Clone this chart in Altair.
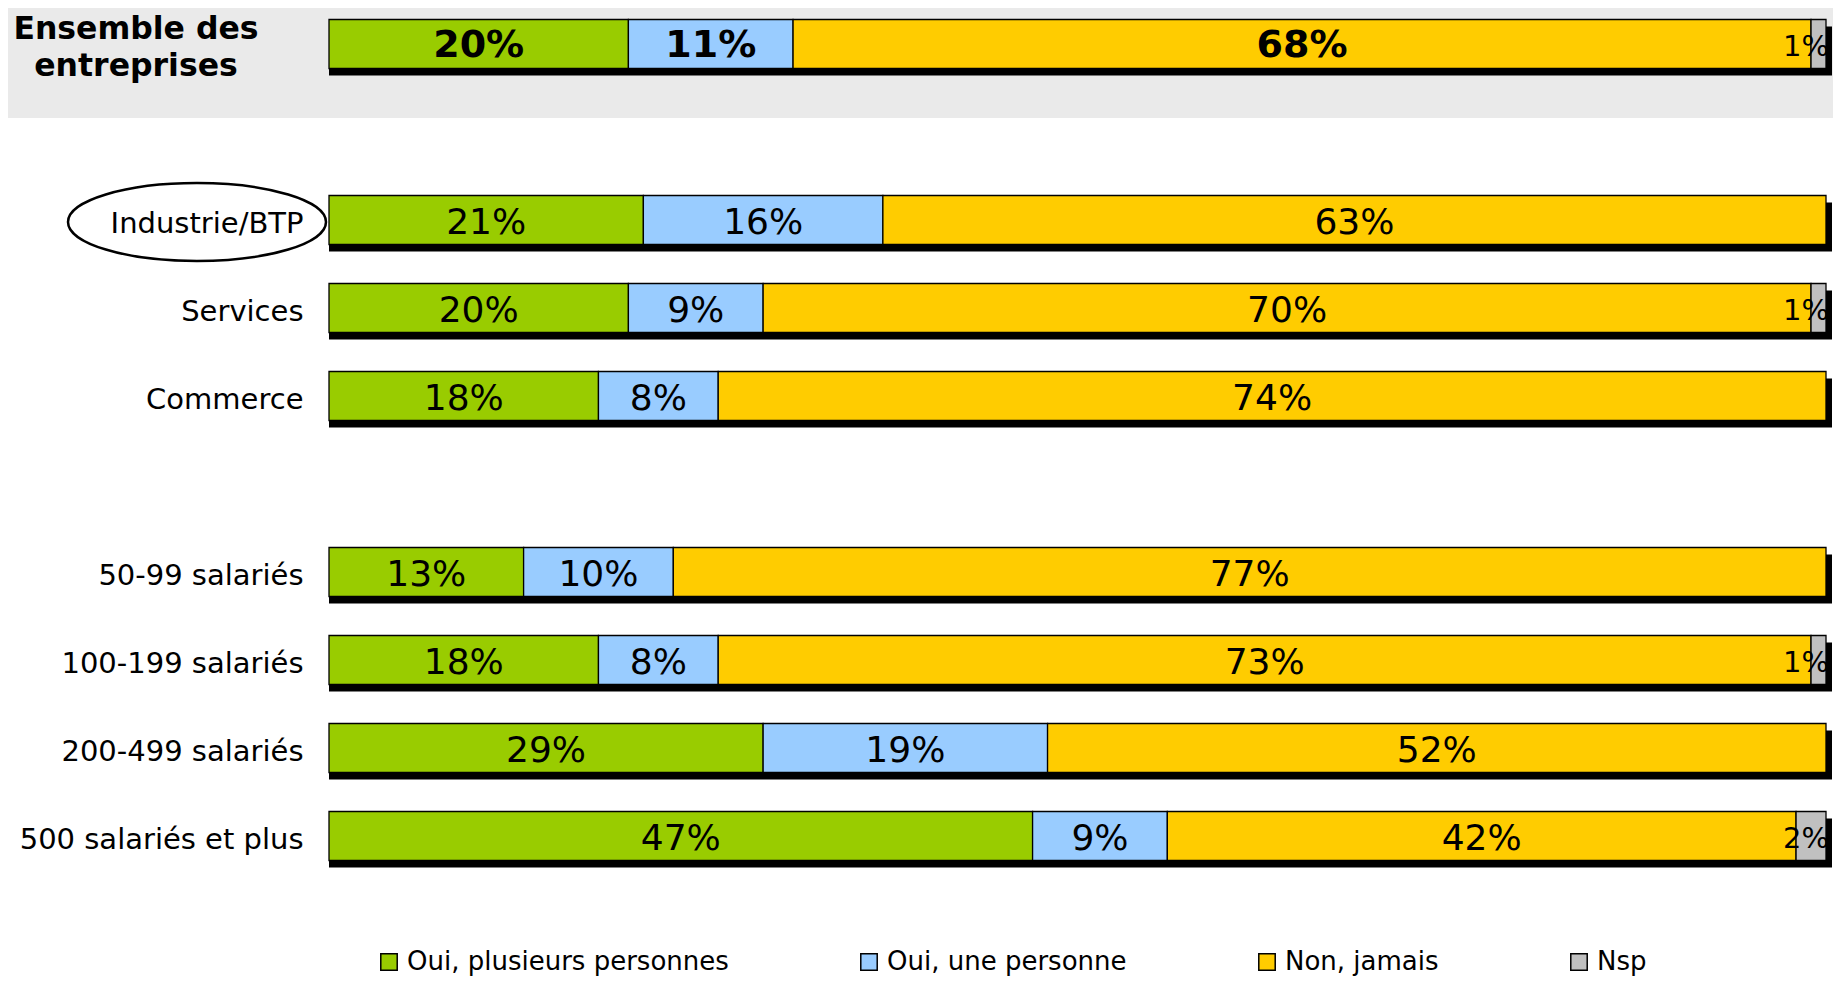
import altair as alt
import pandas as pd

# ---- data ----
categories = ["Ensemble des entreprises", "Industrie/BTP", "Services", "Commerce",
              "50-99 salariés", "100-199 salariés", "200-499 salariés", "500 salariés et plus"]
oui_plusieurs = [20, 21, 20, 18, 13, 18, 29, 47]
oui_une = [11, 16, 9, 8, 10, 8, 19, 9]
non_jamais = [68, 63, 70, 74, 77, 73, 52, 42]
nsp = [1, 0, 1, 0, 0, 1, 0, 2]
series = ["Oui, plusieurs personnes", "Oui, une personne", "Non, jamais", "Nsp"]
colors = ["#99CC00", "#99CCFF", "#FFCC00", "#C0C0C0"]
row_order = ["Ensemble des entreprises", " ", "Industrie/BTP", "Services", "Commerce", "  ",
             "50-99 salariés", "100-199 salariés", "200-499 salariés", "500 salariés et plus"]
top_cat = categories[0]
top_label_lines = ["Ensemble des", "entreprises"]
highlight_cat = "Industrie/BTP"

rows = []
for i, c in enumerate(categories):
    for j, (s, vals) in enumerate(zip(series, [oui_plusieurs, oui_une, non_jamais, nsp])):
        rows.append({"cat": c, "serie": s, "order": j, "value": vals[i]})
df = pd.DataFrame(rows)

FONT = "DejaVu Sans"
W, H = 1497, 880

xscale = alt.Scale(domain=[0, 100], nice=False, zero=True)
yscale = alt.Scale(domain=row_order, range=[-8, 872], paddingInner=0.443, paddingOuter=0.2215)
yaxis = alt.Axis(title=None, domain=False, ticks=False, tickSize=0, grid=False,
                 labelFont=FONT, labelFontSize=29, labelColor="black", labelPadding=26,
                 labelLimit=400, labelOffset=4,
                 labelExpr=f"datum.value == '{top_cat}' ? '' : datum.value")
y_enc = alt.Y("cat:N", scale=yscale, axis=yaxis, sort=row_order)

base = alt.Chart(df).transform_stack(
    stack="value", groupby=["cat"], sort=[alt.SortField("order", order="ascending")],
    as_=["x0", "x1"]
).transform_calculate(
    mid="(datum.x0 + datum.x1) / 2", label="datum.value + '%'"
)

# gray band behind the overall row
band = alt.Chart(alt.Data(values=[{"k": 1}])).mark_rect(color="#EAEAEA").encode(
    x=alt.value(-329), x2=alt.value(1520), y=alt.value(-8), y2=alt.value(110)
)

shadow = alt.Chart(df).transform_aggregate(
    total="sum(value)", groupby=["cat"]
).mark_bar(color="black", xOffset=6, x2Offset=6, yOffset=7, y2Offset=7).encode(
    x=alt.X("total:Q", scale=xscale, axis=None, stack=None),
    y=y_enc,
)

bars = base.transform_filter("datum.value > 0").mark_bar(
    stroke="black", strokeWidth=1.3
).encode(
    x=alt.X("x0:Q", scale=xscale, axis=None),
    x2="x1:Q",
    y=y_enc,
    color=alt.Color("serie:N", scale=alt.Scale(domain=series, range=colors),
                    legend=alt.Legend(orient="none", legendX=47, legendY=941,
                                      direction="horizontal", title=None,
                                      labelFont=FONT, labelFontSize=26, labelColor="black",
                                      symbolType="square", symbolSize=270,
                                      symbolStrokeColor="black", symbolStrokeWidth=1.5,
                                      columnPadding=127, labelOffset=5, labelLimit=500)),
    order=alt.Order("order:Q"),
)

labels_main = base.transform_filter(
    f"datum.value > 0 && datum.serie != 'Nsp' && datum.cat != '{top_cat}'"
).mark_text(font=FONT, fontSize=36, color="black", baseline="middle", align="center",
            dy=3).encode(
    x=alt.X("mid:Q", scale=xscale, axis=None), y=y_enc, text="label:N"
)

labels_top = base.transform_filter(
    f"datum.value > 0 && datum.serie != 'Nsp' && datum.cat == '{top_cat}'"
).mark_text(font=FONT, fontSize=38, fontWeight="bold", color="black",
            baseline="middle", align="center", dy=2).encode(
    x=alt.X("mid:Q", scale=xscale, axis=None), y=y_enc, text="label:N"
)

labels_nsp = base.transform_filter(
    "datum.value > 0 && datum.serie == 'Nsp'"
).mark_text(font=FONT, fontSize=29, color="black", baseline="middle", align="right",
            dx=3, dy=3).encode(
    x=alt.X("x1:Q", scale=xscale, axis=None), y=y_enc, text="label:N"
)

top_label = alt.Chart(alt.Data(values=[{"cat": top_cat}])).mark_text(
    text=top_label_lines, font=FONT, fontSize=31.5, fontWeight="bold", color="black",
    lineHeight=37, align="center", baseline="middle", dy=-14
).encode(x=alt.value(-193), y=y_enc)

ellipse_path = ("M-1,0 C-1,-0.1667 -0.552,-0.302 0,-0.302 C0.552,-0.302 1,-0.1667 1,0 "
                "C1,0.1667 0.552,0.302 0,0.302 C-0.552,0.302 -1,0.1667 -1,0 Z")
ellipse = alt.Chart(alt.Data(values=[{"cat": highlight_cat}])).mark_point(
    shape=ellipse_path, size=66564, filled=False, stroke="black", strokeWidth=2.5,
    opacity=1, yOffset=2
).encode(x=alt.value(-132), y=y_enc)

chart = alt.layer(
    band, shadow, bars, labels_main, labels_top, labels_nsp, top_label, ellipse
).properties(
    width=W, height=H,
    padding={"left": 321, "top": 0, "right": 7, "bottom": 90},
    autosize=alt.AutoSizeParams(type="none"),
    background="white",
).configure_view(strokeWidth=0)

chart.save("out.html", embed_options={"renderer": "svg", "actions": False})
